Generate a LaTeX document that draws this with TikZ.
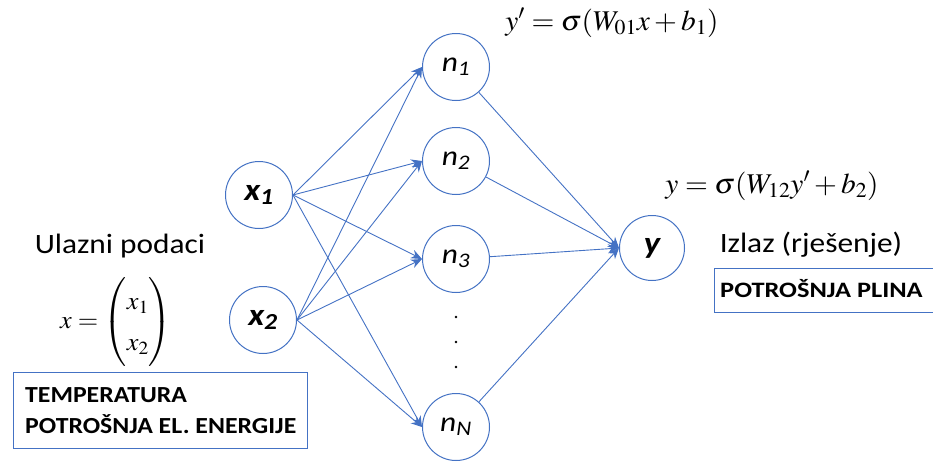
\documentclass[tikz,border=0pt]{standalone}
\usepackage{amsmath}
\usepackage{mathptmx}
\usepackage{fontspec}
\setmainfont{Carlito}[FakeStretch=1.12]
\newfontfamily\plinafont{Carlito}[FakeStretch=1.2]
\usetikzlibrary{arrows.meta}
\definecolor{nnblue}{RGB}{68,114,196}
\begin{document}
\begin{tikzpicture}[x=1pt,y=-1pt,
  neuron/.style={circle,draw=nnblue,line width=1pt,minimum size=67pt,inner sep=0pt,fill=white},
  inlab/.style={font=\fontsize{31}{34}\selectfont\bfseries\itshape},
  hidlab/.style={font=\fontsize{28}{32}\selectfont\itshape},
  conn/.style={draw=nnblue,line width=0.9pt,-{Stealth[length=11pt,width=9pt]}},
  lbl/.style={font=\fontsize{28}{32}\selectfont,anchor=base,inner sep=0pt},
  eqn/.style={font=\fontsize{26}{30}\selectfont,anchor=base},
  infobox/.style={draw=nnblue,line width=0.9pt,inner sep=0pt}
]
\useasboundingbox (0,0) rectangle (933,461);

% neurons
\node[neuron,inlab] (x1) at (259,195) {x\textsubscript{1}};
\node[neuron,inlab] (x2) at (263,320) {x\textsubscript{2}};
\node[neuron,hidlab] (n1) at (456,67) {n\textsubscript{1}};
\node[neuron,hidlab] (n2) at (456,161) {n\textsubscript{2}};
\node[neuron,hidlab] (n3) at (456,259) {n\textsubscript{3}};
\node[neuron,hidlab] (nN) at (456,427) {n\textsubscript{N}};
\node[neuron,inlab,minimum size=65pt] (y) at (652,248) {y};

% dots
\foreach \yy in {317,342,367} \fill (456,\yy) circle (1.3pt);

% connections input -> hidden
\foreach \s in {x1,x2}
  \foreach \t in {n1,n2,n3,nN}
    \draw[conn] (\s.east) -- (\t.west);
% hidden -> output
\foreach \t in {n1,n2,n3,nN}
  \draw[conn] (\t) -- (y.west);

% texts
\node[lbl] (inlbl) at (120,253) {Ulazni podaci};
\node[lbl] (outlbl) at (811,252) {Izlaz (rješenje)};
\node[eqn] (eq1) at (612,30) {\scalebox{1.13}[1.1]{$y' = \sigma(W_{01}x + b_1)$}};
\node[eqn] (eq2) at (772,193) {\scalebox{1.13}[1.1]{$y = \sigma(W_{12}y' + b_2)$}};
\node[font=\fontsize{25}{29}\selectfont,inner sep=0pt] (xvec) at (116,322) {\scalebox{1.05}[1]{$x=\renewcommand{\arraystretch}{1.4}\begin{pmatrix} x_1\\ x_2\end{pmatrix}$}};

% boxes
\node[infobox,anchor=north west,minimum width=294pt,minimum height=76pt] (inbox) at (13,372) {};
\node[font=\fontsize{23}{31}\selectfont\bfseries,align=left,anchor=base west,inner sep=0pt] (intext) at (25,433) {TEMPERATURA\\POTROŠNJA EL. ENERGIJE};
\node[infobox,anchor=north west,minimum width=225pt,minimum height=44pt] (outbox) at (714,268) {};
\node[font=\fontsize{22}{26}\selectfont\plinafont\bfseries,anchor=base west,inner sep=0pt] (outtext) at (720,297) {POTROŠNJA PLINA};
\end{tikzpicture}
\end{document}
